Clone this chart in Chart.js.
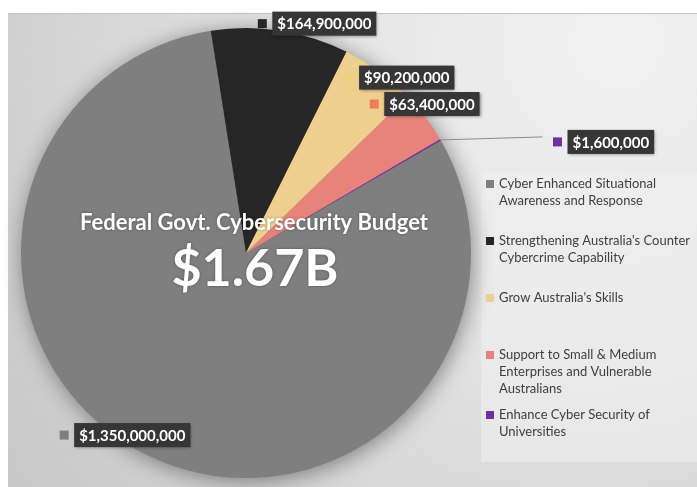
<!DOCTYPE html>
<html>
<head>
<meta charset="utf-8">
<script src="https://cdn.jsdelivr.net/npm/chart.js@4.4.0/dist/chart.umd.min.js"></script>
<style>
  html, body { margin: 0; padding: 0; background: #fff; }
  #wrap { width: 697px; height: 487px; }
</style>
</head>
<body>
<div id="wrap"><canvas id="budgetPie" width="697" height="487"></canvas></div>
<script>
// budget categories and amounts (AUD)
var categories = [
    'Cyber Enhanced Situational Awareness and Response',
    "Strengthening Australia's Counter Cybercrime Capability",
    "Grow Australia's Skills",
    'Support to Small & Medium Enterprises and Vulnerable Australians',
    'Enhance Cyber Security of Universities'
];
var amounts = [1350000000, 164900000, 90200000, 63400000, 1600000];
var valueLabels = ['$1,350,000,000', '$164,900,000', '$90,200,000', '$63,400,000', '$1,600,000'];
var legendLines = [
    ['Cyber Enhanced Situational', 'Awareness and Response'],
    ["Strengthening Australia's Counter", 'Cybercrime Capability'],
    ["Grow Australia's Skills"],
    ['Support to Small & Medium', 'Enterprises and Vulnerable', 'Australians'],
    ['Enhance Cyber Security of', 'Universities']
];
var titleText = 'Federal Govt. Cybersecurity Budget';
var totalText = '$1.67B';

var sliceColors = ['#7f7f7f', '#262626', '#efcf8d', '#e8837b', '#7030a0'];
var markerColors = ['#7f7f7f', '#262626', '#f2cf7e', '#ea7d5e', '#7030a0'];

// label placement: offset of the marker square from the arc's outer mid point
var labelOffsets = [[-85, -21], [-18, -7], [-30, 6], [-51, -13], [117, 2]];
var legendTops = [184, 241, 298, 355, 415];

var FONT = 'Lato, "Open Sans", sans-serif';

var backgroundPlugin = {
    id: 'panelBg',
    beforeDraw: function(chart) {
        var c = chart.ctx;
        c.save();
        c.fillStyle = '#ffffff';
        c.fillRect(0, 0, chart.width, chart.height);
        var g = c.createRadialGradient(620, 40, 10, 560, 80, 700);
        g.addColorStop(0, '#f1f1f1');
        g.addColorStop(0.45, '#e2e2e2');
        g.addColorStop(1, '#c6c6c6');
        c.fillStyle = g;
        c.fillRect(8, 13, chart.width - 8, chart.height - 13);
        c.fillStyle = '#c4c4c4';
        c.fillRect(8, 13, chart.width - 8, 1);
        // legend panel
        c.fillStyle = 'rgba(240,240,240,0.55)';
        c.fillRect(481, 172, chart.width - 481, 290);
        c.restore();
    },
    beforeDatasetsDraw: function(chart) {
        var arc = chart.getDatasetMeta(0).data[0];
        var c = chart.ctx;
        c.save();
        c.shadowColor = 'rgba(0,0,0,0.45)';
        c.shadowBlur = 22;
        c.shadowOffsetX = 2;
        c.shadowOffsetY = 3;
        c.fillStyle = '#7f7f7f';
        c.beginPath();
        c.arc(arc.x, arc.y, arc.outerRadius - 1, 0, Math.PI * 2);
        c.fill();
        c.restore();
    }
};

var labelPlugin = {
    id: 'valueLabels',
    afterDatasetsDraw: function(chart) {
        var c = chart.ctx;
        var arcs = chart.getDatasetMeta(0).data;
        c.save();
        // centre title
        var a0 = arcs[0];
        c.textAlign = 'center';
        c.textBaseline = 'middle';
        c.shadowColor = 'rgba(0,0,0,0.35)';
        c.shadowBlur = 3;
        c.fillStyle = '#ffffff';
        c.font = 'bold 22px ' + FONT;
        c.fillText(titleText, a0.x + 8, a0.y - 30);
        c.font = 'bold 52px ' + FONT;
        c.fillText(totalText, a0.x + 9, a0.y + 16);
        c.shadowBlur = 0;

        arcs.forEach(function(arc, i) {
            var mid = (arc.startAngle + arc.endAngle) / 2;
            var ax = arc.x + Math.cos(mid) * arc.outerRadius;
            var ay = arc.y + Math.sin(mid) * arc.outerRadius;
            var sx = ax + labelOffsets[i][0];
            var sy = ay + labelOffsets[i][1];
            if (i === 4) {
                c.strokeStyle = '#8c8c8c';
                c.lineWidth = 1;
                c.beginPath();
                c.moveTo(ax, ay);
                c.lineTo(sx - 15, sy - 5);
                c.stroke();
            }
            c.fillStyle = markerColors[i];
            c.fillRect(sx - 4.5, sy - 4.5, 9, 9);
            c.font = 'bold 15px ' + FONT;
            var w = c.measureText(valueLabels[i]).width;
            c.shadowColor = 'rgba(0,0,0,0.4)';
            c.shadowBlur = 3;
            c.shadowOffsetX = 1;
            c.shadowOffsetY = 1;
            c.fillStyle = '#363636';
            c.fillRect(sx + 10, sy - 12, w + 10, 24);
            c.shadowColor = 'transparent';
            c.shadowBlur = 0;
            c.shadowOffsetX = 0;
            c.shadowOffsetY = 0;
            c.fillStyle = '#ffffff';
            c.textAlign = 'left';
            c.textBaseline = 'middle';
            c.fillText(valueLabels[i], sx + 15, sy + 1);
        });

        // legend
        c.font = '13px ' + FONT;
        c.textAlign = 'left';
        c.textBaseline = 'middle';
        legendLines.forEach(function(lines, i) {
            var y = legendTops[i];
            c.fillStyle = sliceColors[i];
            c.fillRect(486, y - 4, 8, 8);
            c.fillStyle = '#404040';
            lines.forEach(function(t, k) {
                c.fillText(t, 499, y + k * 17);
            });
        });
        c.restore();
    }
};

new Chart(document.getElementById('budgetPie'), {
    type: 'pie',
    data: {
        labels: categories,
        datasets: [{
            data: amounts,
            backgroundColor: sliceColors,
            borderWidth: 0
        }]
    },
    options: {
        responsive: false,
        animation: false,
        rotation: 60,
        layout: { padding: { left: 21, top: 28, right: 226, bottom: 9 } },
        plugins: {
            legend: { display: false },
            tooltip: { enabled: false }
        }
    },
    plugins: [backgroundPlugin, labelPlugin]
});
</script>
</body>
</html>
